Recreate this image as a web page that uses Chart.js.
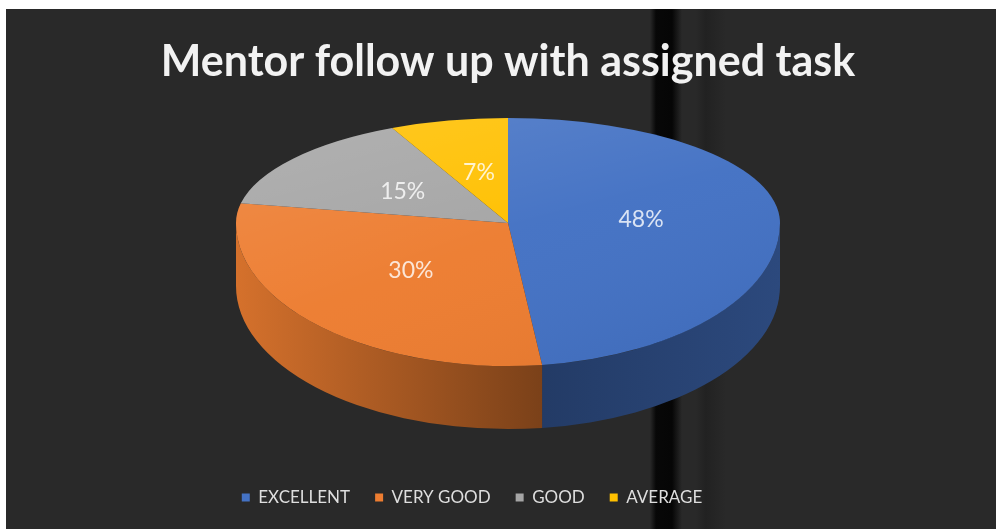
<!DOCTYPE html>
<html>
<head>
<meta charset="utf-8">
<script src="https://cdn.jsdelivr.net/npm/chart.js@4.4.1/dist/chart.umd.min.js"></script>
<style>
  html, body { margin: 0; padding: 0; background: #fff; }
  #frame {
    position: absolute; left: 6px; top: 9px; width: 990px; height: 520px;
    background:
      linear-gradient(90deg, rgba(0,0,0,0) 644px, rgba(4,4,4,0.9) 650px, rgba(4,4,4,0.95) 666px, rgba(0,0,0,0) 676px),
      linear-gradient(90deg, rgba(0,0,0,0) 690px, rgba(20,20,20,0.35) 700px, rgba(0,0,0,0) 720px),
      #292929;
  }
  canvas { display: block; }
</style>
</head>
<body>
<div id="frame"><canvas id="pieChart" width="990" height="520"></canvas></div>
<script>
const categories = ['EXCELLENT', 'VERY GOOD', 'GOOD', 'AVERAGE'];
const shares = [48, 30, 15, 7];
const chartTitle = 'Mentor follow up with assigned task';

const sliceColors = ['#4472C4', '#ED7D31', '#A5A5A5', '#FFC000'];

function shade(hex, f) {
    const n = parseInt(hex.slice(1), 16);
    const r = Math.round(((n >> 16) & 255) * f);
    const g = Math.round(((n >> 8) & 255) * f);
    const b = Math.round((n & 255) * f);
    return 'rgb(' + r + ',' + g + ',' + b + ')';
}

// fake 3D: squash the pie, draw the front wall, and paint labels on the top face
const pie3d = {
    id: 'pie3d',
    afterLayout(chart, args, opts) {
        chart.legend.left += opts.legendShift;
        chart.legend.right += opts.legendShift;
    },
    beforeDatasetsDraw(chart, args, opts) {
        const ctx = chart.ctx;
        const arcs = chart.getDatasetMeta(0).data;
        if (!arcs.length) return;
        const {x, y, outerRadius: R} = arcs[0].getProps(['x', 'y', 'outerRadius']);
        const cy = Math.round(y + opts.lift);
        const ryBack = R * opts.back;
        const ryFront = R * opts.front;
        const depth = opts.depth;

        // side wall (only the front half is visible)
        arcs.forEach((el, i) => {
            const {startAngle, endAngle} = el.getProps(['startAngle', 'endAngle']);
            [0, 2 * Math.PI].forEach(base => {
                const a0 = Math.max(startAngle, base);
                const a1 = Math.min(endAngle, base + Math.PI);
                if (a1 <= a0) return;
                const g = ctx.createLinearGradient(x - R, 0, x + R, 0);
                g.addColorStop(0, shade(sliceColors[i], 0.9));
                g.addColorStop(0.56, shade(sliceColors[i], 0.52));
                g.addColorStop(1, shade(sliceColors[i], 0.64));
                ctx.beginPath();
                ctx.ellipse(x, cy, R, ryFront, 0, a0, a1);
                ctx.ellipse(x, cy + depth, R, ryFront, 0, a1, a0, true);
                ctx.closePath();
                ctx.fillStyle = g;
                ctx.fill();
            });
        });

        // top face, back half and front half use different squash
        [[0, cy, ryBack], [cy, chart.height - cy, ryFront]].forEach(([top, h, ry]) => {
            ctx.save();
            ctx.beginPath();
            ctx.rect(0, top, chart.width, h);
            ctx.clip();
            ctx.translate(0, cy);
            ctx.scale(1, ry / R);
            ctx.translate(0, -y);
            arcs.forEach(el => el.draw(ctx));
            const light = ctx.createLinearGradient(x - R, y - R, x + R * 0.4, y + R);
            light.addColorStop(0, 'rgba(255,255,255,0.14)');
            light.addColorStop(0.6, 'rgba(255,255,255,0.02)');
            light.addColorStop(1, 'rgba(0,0,0,0.04)');
            ctx.beginPath();
            ctx.arc(x, y, R, 0, Math.PI * 2);
            ctx.fillStyle = light;
            ctx.fill();
            ctx.restore();
        });

        // percentage labels
        ctx.save();
        ctx.font = opts.labelFont;
        ctx.fillStyle = opts.labelColor;
        ctx.textAlign = 'center';
        ctx.textBaseline = 'middle';
        arcs.forEach((el, i) => {
            const {startAngle, endAngle} = el.getProps(['startAngle', 'endAngle']);
            const mid = (startAngle + endAngle) / 2;
            const s = Math.sin(mid);
            const lx = x + opts.labelRadius * R * Math.cos(mid);
            const ly = cy + opts.labelRadius * (s < 0 ? ryBack : ryFront) * s;
            ctx.fillText(shares[i] + '%', lx, ly);
        });
        ctx.restore();
        return false;
    }
};

new Chart(document.getElementById('pieChart'), {
    type: 'pie',
    data: {
        labels: categories,
        datasets: [{
            data: shares,
            backgroundColor: sliceColors,
            borderWidth: 0,
            hoverOffset: 0
        }]
    },
    options: {
        responsive: false,
        animation: false,
        events: [],
        radius: 272,
        layout: { padding: { left: 14, right: 0, top: 0, bottom: 13 } },
        plugins: {
            title: {
                display: true,
                text: chartTitle,
                color: '#f2f2f2',
                font: { family: 'Lato', size: 43, weight: 'bold', lineHeight: 1.2 },
                padding: { top: 27, bottom: 0 }
            },
            legend: {
                position: 'bottom',
                labels: {
                    color: '#dedede',
                    font: { family: 'Lato', size: 17 },
                    boxWidth: 8,
                    boxHeight: 8,
                    padding: 25
                }
            },
            tooltip: { enabled: false },
            pie3d: {
                lift: -53,
                back: 0.386,
                front: 0.526,
                depth: 63,
                labelRadius: 0.49,
                labelFont: '23px Lato',
                labelColor: 'rgba(255,255,255,0.8)',
                legendShift: -36
            }
        }
    },
    plugins: [pie3d]
});
</script>
</body>
</html>
